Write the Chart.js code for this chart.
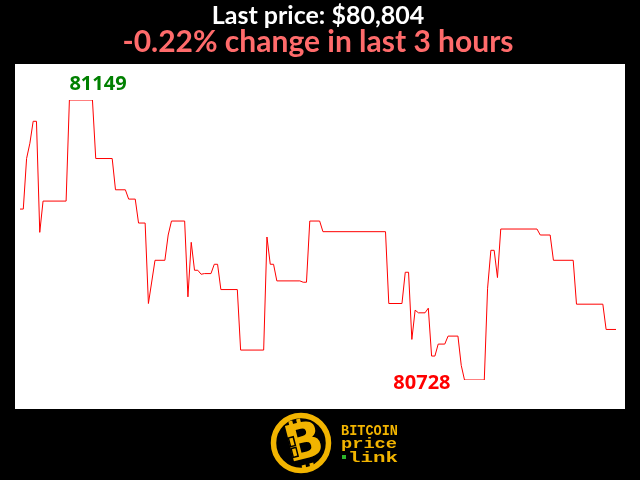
<!DOCTYPE html>
<html>
<head>
<meta charset="utf-8">
<script src="https://cdn.jsdelivr.net/npm/chart.js@4"></script>
<style>
html,body{margin:0;padding:0;background:#000;}
#wrap{width:640px;height:480px;}
</style>
</head>
<body>
<div id="wrap"><canvas id="c" width="640" height="480"></canvas></div>
<script>
// ---- data (minute index within the 3-hour window, price in USD) ----
const minutes = [0,1,2,3,4,5,6,7,14,15,22,23,28,29,32,33,35,36,38,39,41,44,45,46,50,51,52,53,54,55,56,58,59,60,61,66,67,74,75,76,77,78,85,86,87,88,91,92,111,112,116,117,118,119,120,121,123,124,125,126,127,129,130,133,134,135,141,142,143,144,145,146,157,158,161,162,168,169,177,178,181];
const prices = [80985,80985,81061,81084,81117,81117,80950,80997,80997,81149,81149,81061,81061,81014,81014,81000,81000,80964,80964,80843,80908,80908,80946,80967,80967,80853,80935,80893,80893,80887,80888,80888,80902,80902,80864,80864,80773,80773,80943,80902,80902,80877,80877,80875,80875,80967,80967,80951,80951,80843,80843,80890,80890,80789,80833,80829,80829,80836,80764,80764,80782,80782,80794,80794,80750,80728,80728,80866,80923,80923,80882,80955,80955,80946,80946,80908,80908,80842,80842,80804,80804];
const titleText = 'Last price: $80,804';
const subtitleText = '-0.22% change in last 3 hours';
const logoLines = ['BITCOIN', 'price', 'link'];

const maxPrice = Math.max(...prices);
const minPrice = Math.min(...prices);
const points = minutes.map((m, i) => ({x: m, y: prices[i]}));

const bgPlugin = {
  id: 'bg',
  beforeDraw(chart) {
    const ctx = chart.ctx;
    ctx.save();
    ctx.fillStyle = '#000';
    ctx.fillRect(0, 0, chart.width, chart.height);
    ctx.fillStyle = '#fff';
    ctx.fillRect(15, 64, 610, 345);
    ctx.restore();
  }
};

const extremaPlugin = {
  id: 'extrema',
  afterDatasetsDraw(chart) {
    const ctx = chart.ctx;
    const xs = chart.scales.x, ys = chart.scales.y;
    const iMax = prices.indexOf(maxPrice);
    const iMin = prices.indexOf(minPrice);
    ctx.save();
    ctx.font = 'bold 20px "Open Sans"';
    ctx.fillStyle = '#008000';
    ctx.textAlign = 'left';
    ctx.textBaseline = 'bottom';
    ctx.fillText(String(maxPrice), xs.getPixelForValue(minutes[iMax]), ys.getPixelForValue(maxPrice) - 6);
    ctx.fillStyle = '#ff0000';
    ctx.textAlign = 'right';
    ctx.textBaseline = 'middle';
    ctx.fillText(String(minPrice), xs.getPixelForValue(minutes[iMin]) - 14, ys.getPixelForValue(minPrice) + 3);
    ctx.restore();
  }
};

function fitText(ctx, text, x, y, width) {
  const w = ctx.measureText(text).width;
  ctx.save();
  ctx.translate(x, y);
  ctx.scale(width / w, 1);
  ctx.fillText(text, 0, 0);
  ctx.restore();
}

const logoPlugin = {
  id: 'logo',
  afterDraw(chart) {
    const ctx = chart.ctx;
    const gold = '#f2b400';
    const cx = 301, cy = 443, r = 27.5;
    ctx.save();
    ctx.strokeStyle = gold;
    ctx.lineWidth = 5.5;
    ctx.beginPath();
    ctx.arc(cx, cy, r, 0, Math.PI * 2);
    ctx.stroke();
    // stylised B
    ctx.translate(cx, cy);
    ctx.rotate(-0.25);
    ctx.fillStyle = gold;
    ctx.font = 'bold 50px "DejaVu Sans"';
    ctx.textAlign = 'center';
    ctx.textBaseline = 'middle';
    ctx.fillText('B', 3, 3);
    ctx.fillRect(-7, -24, 4, 6);
    ctx.fillRect(1, -24, 4, 6);
    ctx.fillRect(-5, 22, 4, 5);
    ctx.fillRect(3, 22, 4, 5);
    // chain-link hint
    ctx.strokeStyle = '#000';
    ctx.lineWidth = 1.5;
    ctx.strokeRect(-11, -8, 5, 9);
    ctx.strokeRect(-11, 3, 5, 9);
    ctx.restore();
    // text
    ctx.save();
    ctx.fillStyle = gold;
    ctx.font = 'bold 14px "Liberation Mono"';
    ctx.textAlign = 'left';
    ctx.textBaseline = 'alphabetic';
    fitText(ctx, logoLines[0], 341, 435, 57);
    fitText(ctx, logoLines[1], 341, 448, 56);
    fitText(ctx, logoLines[2], 348, 462, 50);
    ctx.fillStyle = '#2bb52b';
    ctx.fillRect(342, 455, 4, 4);
    ctx.restore();
  }
};

new Chart(document.getElementById('c'), {
  type: 'line',
  data: {
    datasets: [{
      data: points,
      borderColor: '#ff0000',
      borderWidth: 1,
      pointRadius: 0,
      tension: 0,
      fill: false
    }]
  },
  options: {
    responsive: false,
    animation: false,
    devicePixelRatio: 1,
    layout: { padding: { left: 20, right: 24, top: 0, bottom: 100 } },
    scales: {
      x: { type: 'linear', display: false, min: minutes[0], max: minutes[minutes.length - 1] },
      y: { type: 'linear', display: false, min: minPrice, max: maxPrice }
    },
    plugins: {
      legend: { display: false },
      tooltip: { enabled: false },
      title: {
        display: true,
        text: titleText,
        color: '#ffffff',
        font: { family: 'Lato', size: 25, weight: 'bold', lineHeight: 1.1 },
        padding: { top: 2, bottom: 0 }
      },
      subtitle: {
        display: true,
        text: subtitleText,
        color: '#ff6b6b',
        font: { family: 'Lato', size: 30, weight: 'bold', lineHeight: 0.85 },
        padding: { top: 0, bottom: 45 }
      }
    }
  },
  plugins: [bgPlugin, extremaPlugin, logoPlugin]
});
</script>
</body>
</html>
